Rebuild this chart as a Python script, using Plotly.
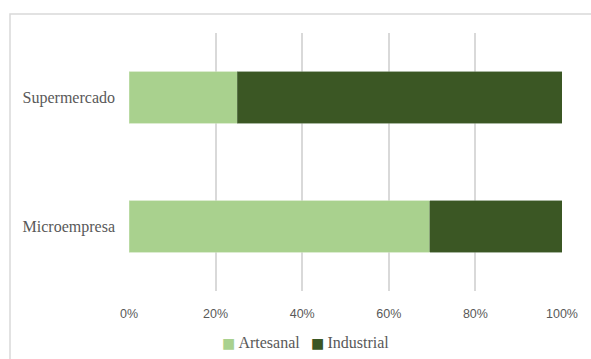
import plotly.graph_objects as go

categories = ["Microempresa", "Supermercado"]
artesanal = [69.5, 25.0]
industrial = [30.5, 75.0]
series_names = ["Artesanal", "Industrial"]
series_colors = ["#A9D18E", "#3B5724"]
tick_vals = [0, 20, 40, 60, 80, 100]
tick_text = ["0%", "20%", "40%", "60%", "80%", "100%"]

fig = go.Figure()
fig.add_trace(go.Bar(y=categories, x=artesanal, name=series_names[0], orientation="h",
                     marker=dict(color=series_colors[0], line=dict(color="#C4E0B0", width=0.6)),
                     width=0.4, showlegend=False))
fig.add_trace(go.Bar(y=categories, x=industrial, name=series_names[1], orientation="h",
                     marker=dict(color=series_colors[1], line=dict(color="#6E8560", width=0.6)),
                     width=0.4, showlegend=False))

# legend drawn as text annotations (Excel-style small squares close to labels)
legend_x = [0.306, 0.511]
annotations = []
for name, col, lx in zip(series_names, series_colors, legend_x):
    annotations.append(dict(
        xref="paper", yref="paper", x=lx, y=-0.198, xanchor="center", yanchor="middle",
        showarrow=False,
        text=f'<span style="color:{col};font-size:14px;font-family:DejaVu Sans">■</span>&#8201;{name}',
        font=dict(family="Liberation Serif", size=16, color="#595959")))

fig.update_layout(
    barmode="stack",
    width=591, height=359,
    margin=dict(l=129, r=29, t=33, b=68),
    paper_bgcolor="white", plot_bgcolor="white",
    showlegend=False,
    annotations=annotations,
    xaxis=dict(range=[0, 100], tickvals=tick_vals, ticktext=tick_text,
               showgrid=True, gridcolor="#D9D9D9", gridwidth=1.5, zeroline=False,
               showline=False, ticks="", ticklabelstandoff=13,
               tickfont=dict(family="Liberation Sans", size=12.5, color="#595959")),
    yaxis=dict(range=[-0.5, 1.5], showgrid=False, zeroline=False, showline=False,
               ticks="", ticklabelstandoff=13,
               tickfont=dict(family="Liberation Serif", size=16, color="#595959")),
    shapes=[dict(type="rect", xref="paper", yref="paper", x0=-119/433, x1=1.2, y0=-0.5, y1=1+19/257,
                 line=dict(color="#D9D9D9", width=1.5), fillcolor="rgba(0,0,0,0)", layer="below")],
)
fig.write_html("out.html")
